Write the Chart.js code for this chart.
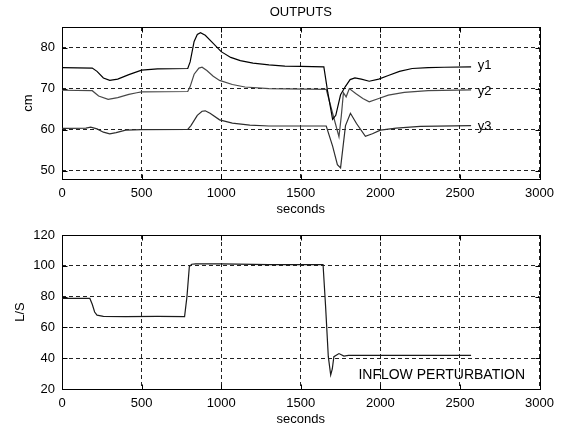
<!DOCTYPE html>
<html>
<head>
<meta charset="utf-8">
<title>OUTPUTS</title>
<script src="https://cdn.jsdelivr.net/npm/chart.js@4"></script>
<style>
  body { margin: 0; background: #fff; }
  #wrap { position: relative; width: 561px; height: 427px; }
  canvas { position: absolute; left: 0; }
</style>
</head>
<body>
<div id="wrap">
  <canvas id="topChart" width="561" height="217" style="top:0"></canvas>
  <canvas id="bottomChart" width="561" height="210" style="top:217px"></canvas>
</div>
<script>
// ticks
const xTicks = [0, 500, 1000, 1500, 2000, 2500, 3000];
const topYTicks = [50, 60, 70, 80];
const bottomYTicks = [20, 40, 60, 80, 100, 120];

// niveles (cm)
const y1T = [0, 190, 220, 260, 300, 350, 420, 500, 600, 790, 805, 830, 850, 870, 900, 950, 1000, 1060, 1120, 1200, 1300, 1400, 1500, 1645, 1670, 1700, 1720, 1750, 1780, 1810, 1840, 1880, 1930, 1990, 2050, 2120, 2200, 2300, 2400, 2570];
const y1V = [75.1, 75.0, 74.2, 72.6, 72.0, 72.3, 73.4, 74.5, 74.8, 74.9, 76.5, 81.5, 83.2, 83.6, 83.0, 81.0, 79.0, 77.6, 76.8, 76.2, 75.8, 75.5, 75.4, 75.3, 69.0, 62.5, 63.5, 68.5, 70.5, 72.2, 72.6, 72.3, 71.8, 72.3, 73.2, 74.2, 74.9, 75.1, 75.2, 75.3];

const y2T = [0, 190, 230, 290, 350, 420, 470, 500, 790, 805, 830, 860, 880, 910, 950, 990, 1070, 1150, 1300, 1660, 1700, 1740, 1755, 1768, 1785, 1805, 1845, 1890, 1930, 1990, 2050, 2150, 2300, 2570];
const y2V = [69.6, 69.5, 68.2, 67.4, 67.8, 68.6, 69.0, 69.2, 69.3, 70.5, 73.5, 75.0, 75.2, 74.4, 73.0, 72.0, 71.0, 70.4, 70.0, 69.8, 64.0, 58.3, 63.5, 69.0, 68.0, 70.0, 68.8, 67.6, 66.8, 67.6, 68.4, 69.1, 69.5, 69.7];

const y3T = [0, 150, 180, 220, 260, 300, 340, 400, 500, 790, 810, 850, 880, 900, 930, 990, 1070, 1180, 1300, 1660, 1700, 1730, 1750, 1781, 1812, 1850, 1906, 1950, 2000, 2100, 2250, 2570];
const y3V = [60.3, 60.4, 60.6, 60.2, 59.4, 59.0, 59.3, 59.9, 60.0, 60.1, 61.0, 63.5, 64.5, 64.6, 64.0, 62.4, 61.6, 61.1, 60.9, 60.9, 56.0, 51.5, 50.7, 61.0, 64.0, 61.5, 58.4, 59.0, 59.9, 60.4, 60.8, 61.0];

// caudal de entrada (L/S)
const qT = [0, 175, 190, 205, 220, 260, 400, 600, 770, 785, 800, 815, 840, 1000, 1300, 1640, 1656, 1673, 1688, 1698, 1708, 1740, 1771, 1800, 2000, 2570];
const qV = [78.8, 78.8, 75.0, 70.0, 68.0, 67.2, 67.0, 67.2, 67.0, 80.0, 99.5, 101.0, 101.2, 101.2, 100.8, 100.8, 73.5, 41.0, 29.1, 33.0, 41.0, 43.0, 41.4, 41.8, 41.8, 41.8];

const FONT = '"Liberation Sans", Arial, sans-serif';
Chart.defaults.font.family = FONT;
Chart.defaults.font.size = 13;
Chart.defaults.color = '#000';

const toPts = (t, v) => t.map((x, i) => ({ x: x, y: v[i] }));

// marco de la grafica + marcas de ticks hacia dentro (estilo matlab)
const boxFrame = {
    id: 'boxFrame',
    beforeDatasetsDraw(chart) {
        const { ctx, chartArea: a, scales: { x, y } } = chart;
        const L = Math.round(a.left) + 0.5, R = Math.round(a.right) + 0.5;
        const T = Math.round(a.top) + 0.5, B = Math.round(a.bottom) + 0.5;
        ctx.save();
        ctx.strokeStyle = '#000';
        ctx.lineWidth = 1;
        ctx.strokeRect(L, T, R - L, B - T);
        ctx.beginPath();
        x.ticks.forEach(t => {
            const px = Math.round(x.getPixelForValue(t.value)) + 0.5;
            ctx.moveTo(px, T); ctx.lineTo(px, T + 5);
            ctx.moveTo(px, B); ctx.lineTo(px, B - 5);
        });
        y.ticks.forEach(t => {
            const py = Math.round(y.getPixelForValue(t.value)) + 0.5;
            ctx.moveTo(L, py); ctx.lineTo(L + 5, py);
            ctx.moveTo(R, py); ctx.lineTo(R - 5, py);
        });
        ctx.stroke();
        ctx.restore();
    }
};

// textos: titulo centrado sobre el area y etiquetas en coordenadas de datos
function textLabels(cfg) {
    return {
        id: 'textLabels',
        afterDatasetsDraw(chart) {
            const { ctx, chartArea: a, scales: { x, y } } = chart;
            ctx.save();
            ctx.fillStyle = '#000';
            ctx.textBaseline = 'middle';
            if (cfg.title) {
                ctx.font = '13px ' + FONT;
                ctx.textAlign = 'center';
                ctx.fillText(cfg.title, (a.left + a.right) / 2, 12);
            }
            ctx.textAlign = 'left';
            cfg.labels.forEach(l => {
                ctx.font = (l.size || 13) + 'px ' + FONT;
                ctx.fillText(l.text, x.getPixelForValue(l.x), y.getPixelForValue(l.y));
            });
            ctx.restore();
        }
    };
}

function makeChart(id, datasets, cfg) {
    const ctx = document.getElementById(id).getContext('2d');
    return new Chart(ctx, {
        type: 'line',
        data: { datasets: datasets },
        options: {
            responsive: false,
            animation: false,
            layout: { padding: cfg.padding },
            plugins: {
                legend: { display: false },
                tooltip: { enabled: false },
                title: { display: false }
            },
            elements: {
                point: { radius: 0 },
                line: { borderWidth: 1.2, tension: 0, fill: false }
            },
            scales: {
                x: {
                    type: 'linear',
                    min: 0,
                    max: 3000,
                    afterBuildTicks: s => { s.ticks = xTicks.map(v => ({ value: v })); },
                    afterFit: s => { s.height = 38; },
                    grid: { color: '#222', lineWidth: 1, drawTicks: false },
                    border: { display: false, dash: [4, 3] },
                    ticks: { padding: 7, maxRotation: 0, callback: v => String(v) },
                    title: { display: true, text: 'seconds', padding: { top: 0, bottom: 0 } }
                },
                y: {
                    type: 'linear',
                    min: cfg.yMin,
                    max: cfg.yMax,
                    afterBuildTicks: s => { s.ticks = cfg.yTicks.map(v => ({ value: v })); },
                    afterFit: s => { s.width = 62; },
                    grid: { color: '#222', lineWidth: 1, drawTicks: false },
                    border: { display: false, dash: [4, 3] },
                    ticks: { padding: 7, callback: v => String(v) },
                    title: { display: true, text: cfg.yTitle, padding: { top: cfg.yTitlePad, bottom: 0 } }
                }
            }
        },
        plugins: [boxFrame, textLabels(cfg)]
    });
}

makeChart('topChart', [
    { label: 'y1', data: toPts(y1T, y1V), borderColor: '#000000' },
    { label: 'y2', data: toPts(y2T, y2V), borderColor: '#484848' },
    { label: 'y3', data: toPts(y3T, y3V), borderColor: '#2e2e2e' }
], {
    padding: { left: 0, right: 19, top: 27, bottom: 0 },
    title: 'OUTPUTS',
    yMin: 48,
    yMax: 85,
    yTicks: topYTicks,
    yTitle: 'cm',
    yTitlePad: 20.2,
    labels: [
        { text: 'y1', x: 2612, y: 75.6 },
        { text: 'y2', x: 2612, y: 69.4 },
        { text: 'y3', x: 2612, y: 60.7 }
    ]
});

makeChart('bottomChart', [
    { label: 'inflow', data: toPts(qT, qV), borderColor: '#1a1a1a' }
], {
    padding: { left: 0, right: 19, top: 18, bottom: 0 },
    title: null,
    yMin: 20,
    yMax: 120,
    yTicks: bottomYTicks,
    yTitle: 'L/S',
    yTitlePad: 12.2,
    labels: [
        { text: 'INFLOW PERTURBATION', x: 1862, y: 29.1, size: 14 }
    ]
});
</script>
</body>
</html>
